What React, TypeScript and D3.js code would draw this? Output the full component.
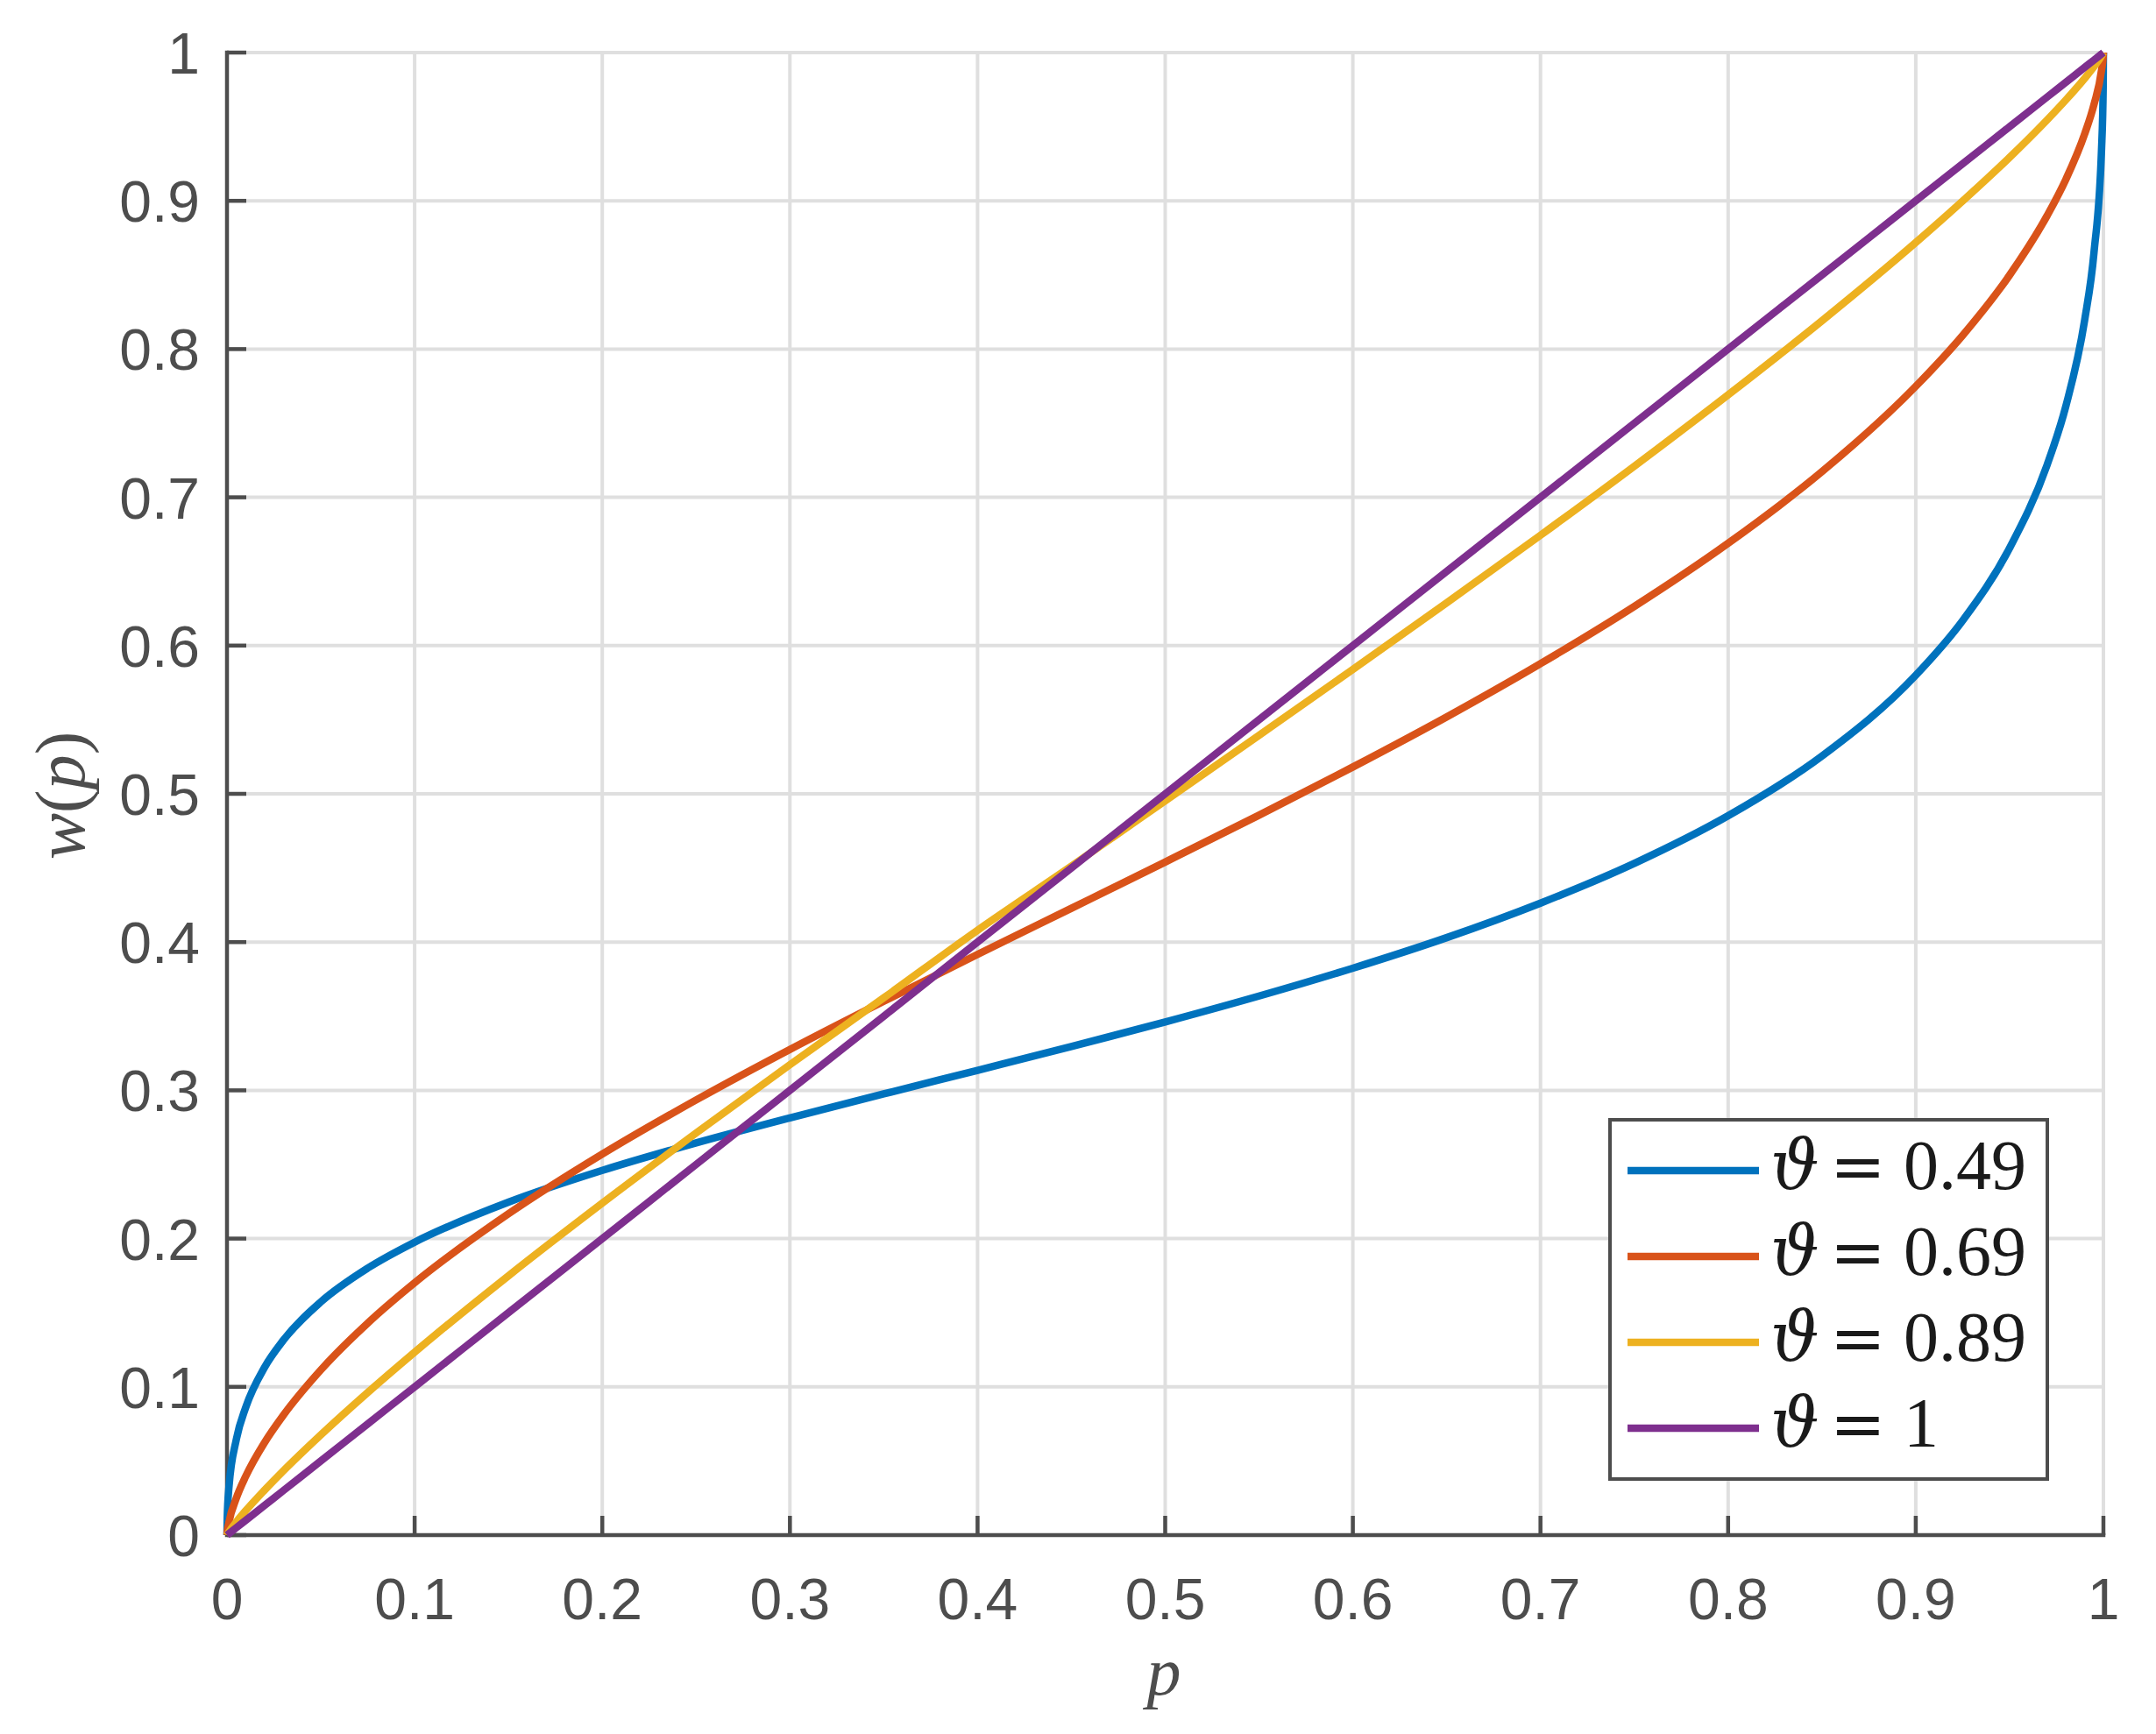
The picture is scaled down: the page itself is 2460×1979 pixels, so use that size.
// @ts-nocheck
import { useEffect, useRef } from 'react';
import * as d3 from 'd3';

// probability grid and weighting curves
const pValues = [0, 0.0001, 0.001, 0.005, 0.01, 0.02, 0.03, 0.05, 0.075, 0.1, 0.15, 0.2, 0.25, 0.3, 0.35, 0.4, 0.45, 0.5,
  0.55, 0.6, 0.65, 0.7, 0.75, 0.8, 0.85, 0.9, 0.925, 0.95, 0.97, 0.98, 0.99, 0.995, 0.999, 0.9999, 1];

const w049 = [0, 0.0107, 0.0317, 0.0647, 0.0862, 0.1131, 0.1314, 0.1573, 0.1801, 0.1976, 0.2246, 0.246, 0.2645, 0.2814, 0.2976, 0.3135, 0.3295, 0.3461,
  0.3636, 0.3824, 0.403, 0.4263, 0.4531, 0.4852, 0.5255, 0.58, 0.6169, 0.6658, 0.7219, 0.7616, 0.8195, 0.8654, 0.9347, 0.978, 1];
const w069 = [0, 0.0017, 0.0084, 0.025, 0.0397, 0.0624, 0.0808, 0.1114, 0.143, 0.1702, 0.2167, 0.257, 0.2935, 0.3276, 0.3601, 0.3917, 0.4228, 0.454,
  0.4856, 0.5181, 0.5519, 0.5878, 0.6264, 0.669, 0.7173, 0.7749, 0.8093, 0.8499, 0.89, 0.9145, 0.9451, 0.9651, 0.9881, 0.9975, 1];
const w089 = [0, 0.0003, 0.0021, 0.0089, 0.0165, 0.0303, 0.0433, 0.0676, 0.0962, 0.1234, 0.1749, 0.2239, 0.2712, 0.3173, 0.3624, 0.408, 0.4512, 0.4953,
  0.5395, 0.5839, 0.6288, 0.6744, 0.721, 0.7691, 0.8191, 0.8719, 0.8999, 0.9293, 0.9546, 0.9681, 0.9826, 0.9905, 0.9977, 0.9997, 1];
const w100 = [0, 0.0001, 0.001, 0.005, 0.01, 0.02, 0.03, 0.05, 0.075, 0.1, 0.15, 0.2, 0.25, 0.3, 0.35, 0.4, 0.45, 0.5,
  0.55, 0.6, 0.65, 0.7, 0.75, 0.8, 0.85, 0.9, 0.925, 0.95, 0.97, 0.98, 0.99, 0.995, 0.999, 0.9999, 1];

const thetaLabels = ['0.49', '0.69', '0.89', '1'];
const seriesColors = ['#0072BD', '#D95319', '#EDB120', '#7E2F8E'];
const ticks = [0, 0.1, 0.2, 0.3, 0.4, 0.5, 0.6, 0.7, 0.8, 0.9, 1];

const W = 2460;
const H = 1979;

export default function App() {
  const svgRef = useRef(null);

  useEffect(() => {
    const svg = d3.select(svgRef.current);
    svg.selectAll('*').remove();

    const left = 259, right = 2400, top = 60, bottom = 1752;
    const x = d3.scaleLinear().domain([0, 1]).range([left, right]);
    const y = d3.scaleLinear().domain([0, 1]).range([bottom, top]);
    const axisColor = '#4d4d4d';
    const tickFont = 'Liberation Sans, Arial, Helvetica, sans-serif';
    const mathFont = 'Liberation Serif, Times New Roman, serif';

    svg.append('rect').attr('width', W).attr('height', H).attr('fill', '#fff');

    // grid
    const grid = svg.append('g');
    ticks.forEach((t) => {
      grid.append('line').attr('x1', x(t)).attr('x2', x(t)).attr('y1', top).attr('y2', bottom)
        .attr('stroke', '#dfdfdf').attr('stroke-width', 4);
      grid.append('line').attr('x1', left).attr('x2', right).attr('y1', y(t)).attr('y2', y(t))
        .attr('stroke', '#dfdfdf').attr('stroke-width', 4);
    });

    // axes lines and inward ticks
    const axes = svg.append('g').attr('stroke', axisColor).attr('stroke-width', 4.5).attr('fill', 'none');
    axes.append('path').attr('d', `M${left},${top}V${bottom}H${right}`).attr('stroke-linecap', 'square');
    ticks.forEach((t) => {
      axes.append('line').attr('x1', x(t)).attr('x2', x(t)).attr('y1', bottom).attr('y2', bottom - 22);
      axes.append('line').attr('x1', left).attr('x2', left + 22).attr('y1', y(t)).attr('y2', y(t));
    });

    // tick labels
    ticks.forEach((t) => {
      svg.append('text').attr('x', x(t)).attr('y', 1848).attr('text-anchor', 'middle')
        .attr('font-family', tickFont).attr('font-size', 66).attr('fill', axisColor).text(d3.format('~g')(t));
      svg.append('text').attr('x', 228).attr('y', y(t) + 24).attr('text-anchor', 'end')
        .attr('font-family', tickFont).attr('font-size', 66).attr('fill', axisColor).text(d3.format('~g')(t));
    });

    // axis labels
    const xl = svg.append('text').attr('x', 1328).attr('y', 1934).attr('text-anchor', 'middle')
      .attr('font-family', mathFont).attr('font-size', 78).attr('fill', axisColor);
    xl.append('tspan').attr('font-style', 'italic').text('p');

    const yl = svg.append('text').attr('transform', 'translate(96,908) rotate(-90)').attr('text-anchor', 'middle')
      .attr('font-family', mathFont).attr('font-size', 80).attr('fill', axisColor);
    yl.append('tspan').attr('font-style', 'italic').text('w');
    yl.append('tspan').text('(');
    yl.append('tspan').attr('font-style', 'italic').text('p');
    yl.append('tspan').text(')');

    // curves
    const series = [w049, w069, w089, w100];
    const line = d3.line().x((d) => x(d[0])).y((d) => y(d[1])).curve(d3.curveMonotoneX);
    series.forEach((vals, i) => {
      svg.append('path').datum(pValues.map((p, j) => [p, vals[j]]))
        .attr('d', line).attr('fill', 'none').attr('stroke', seriesColors[i])
        .attr('stroke-width', 8.5).attr('stroke-linejoin', 'round');
    });

    // legend
    const lg = svg.append('g');
    lg.append('rect').attr('x', 1837).attr('y', 1278).attr('width', 499).attr('height', 410)
      .attr('fill', '#fff').attr('stroke', axisColor).attr('stroke-width', 4);
    const rowY = d3.scaleLinear().domain([0, 3]).range([1336, 1630]);
    thetaLabels.forEach((lab, i) => {
      const ry = rowY(i);
      lg.append('line').attr('x1', 1857).attr('x2', 2007).attr('y1', ry).attr('y2', ry)
        .attr('stroke', seriesColors[i]).attr('stroke-width', 8.5);
      lg.append('text').attr('x', 2020).attr('y', ry + 21).attr('font-family', 'DejaVu Serif, serif')
        .attr('font-style', 'italic').attr('font-size', 78).attr('fill', '#1a1a1a').text('\u03D1');
      lg.append('text').attr('x', 2088).attr('y', ry + 21).attr('font-family', 'DejaVu Serif, serif')
        .attr('font-size', 76).attr('fill', '#1a1a1a').text('=');
      lg.append('text').attr('x', 2172).attr('y', ry + 21).attr('font-family', mathFont)
        .attr('font-size', 80).attr('fill', '#1a1a1a').text(lab);
    });
  }, []);

  return (
    <svg ref={svgRef} width={W} height={H} style={{ position: 'absolute', left: 0, top: 0 }} />
  );
}
